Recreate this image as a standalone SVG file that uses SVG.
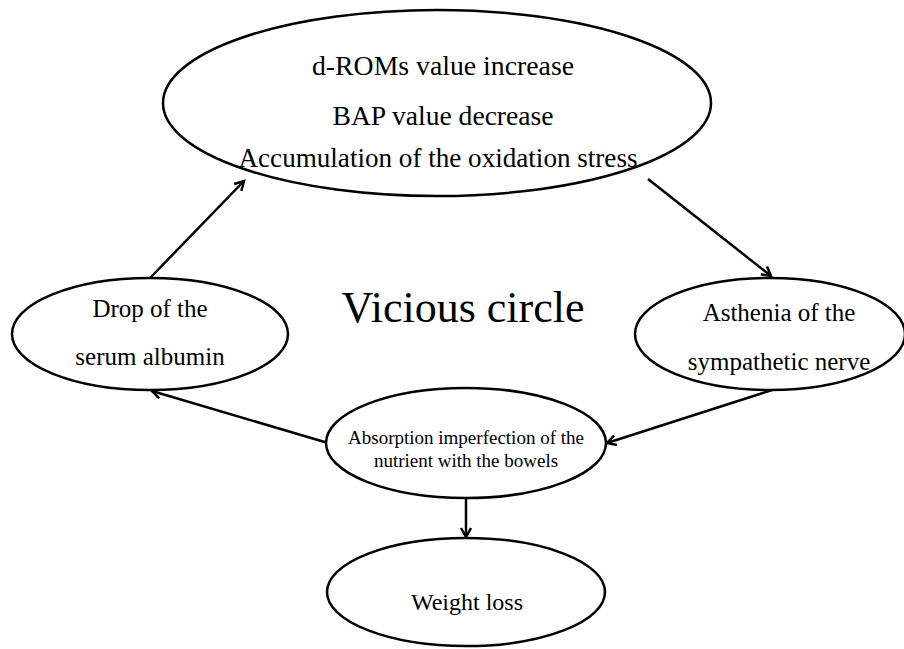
<svg xmlns="http://www.w3.org/2000/svg" width="904" height="649" viewBox="0 0 904 649">
<style>
.n{fill:#fff;stroke:#000;stroke-width:2.5}
.t{font-family:"Liberation Serif","Times New Roman",serif;fill:#000;text-anchor:middle}
.c{stroke:#000;stroke-width:2.5;fill:none;marker-end:url(#ah)}
</style>
<defs>
<marker id="ah" markerWidth="14" markerHeight="14" refX="10" refY="6" orient="auto" markerUnits="userSpaceOnUse">
<path d="M1,1 L10,6 L1,11" fill="none" stroke="#000" stroke-width="2.5"/>
</marker>
</defs>
<rect width="904" height="649" fill="#fff"/>
<g id="connectors">
<line class="c" x1="150" y1="278" x2="244" y2="181"/>
<line class="c" x1="648" y1="179" x2="771" y2="276"/>
<line class="c" x1="772" y1="390" x2="607" y2="443"/>
<line class="c" x1="328" y1="443" x2="152" y2="391"/>
<line class="c" x1="466" y1="498" x2="466" y2="537"/>
</g>
<g id="top">
<ellipse class="n" cx="437" cy="103" rx="274" ry="93"/>
<text class="t" x="443" y="75" font-size="27" textLength="262" lengthAdjust="spacingAndGlyphs">d-ROMs value increase</text>
<text class="t" x="443" y="125" font-size="27" textLength="221" lengthAdjust="spacingAndGlyphs">BAP value decrease</text>
<text class="t" x="438" y="167" font-size="27" textLength="399" lengthAdjust="spacingAndGlyphs">Accumulation of the oxidation stress</text>
</g>
<g id="label">
<text class="t" x="463" y="322" font-size="44">Vicious circle</text>
</g>
<g id="left">
<ellipse class="n" cx="150" cy="334" rx="138" ry="56"/>
<text class="t" x="150" y="317" font-size="25">Drop of the</text>
<text class="t" x="150" y="365" font-size="25">serum albumin</text>
</g>
<g id="right">
<ellipse class="n" cx="770" cy="334" rx="135" ry="56"/>
<text class="t" x="779" y="321" font-size="25">Asthenia of the</text>
<text class="t" x="779" y="370" font-size="25">sympathetic nerve</text>
</g>
<g id="middle">
<ellipse class="n" cx="466" cy="443" rx="140" ry="55"/>
<text class="t" x="466" y="444" font-size="19">Absorption imperfection of the</text>
<text class="t" x="466" y="467" font-size="19">nutrient with the bowels</text>
</g>
<g id="weight">
<ellipse class="n" cx="466" cy="592" rx="139" ry="54"/>
<text class="t" x="467" y="610" font-size="24">Weight loss</text>
</g>
</svg>
